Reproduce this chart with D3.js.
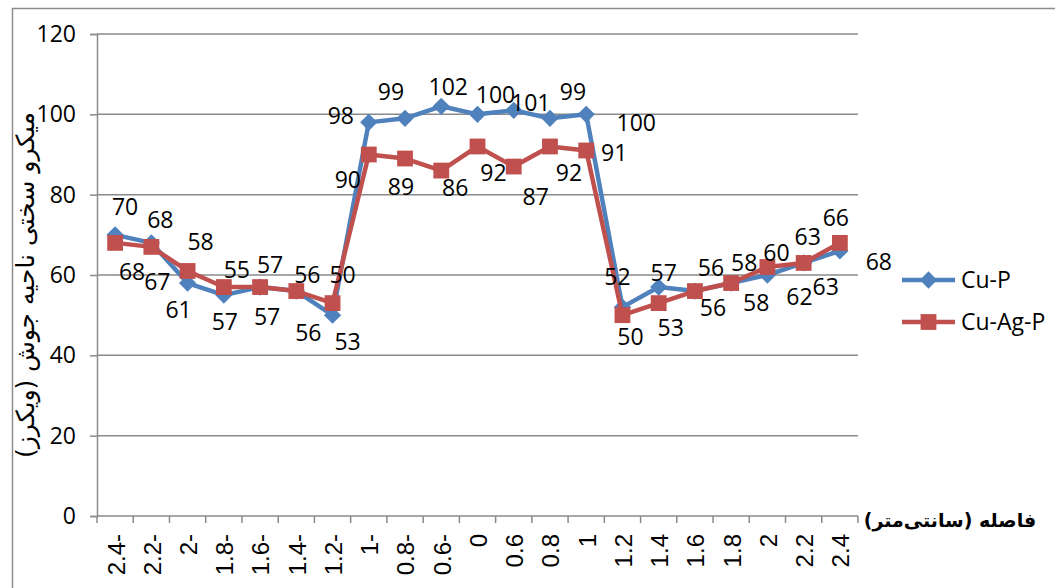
<!DOCTYPE html>
<html>
<head>
<meta charset="utf-8">
<script src="https://cdn.jsdelivr.net/npm/d3@7"></script>
<style>
  html, body { margin: 0; padding: 0; background: #fff; }
  svg { display: block; }
</style>
</head>
<body>
<div id="chart"></div>
<script>
// categories (distance, cm) as printed on the axis
const categories = ['2.4-', '2.2-', '2-', '1.8-', '1.6-', '1.4-', '1.2-', '1-', '0.8-', '0.6-', '0',
  '0.6', '0.8', '1', '1.2', '1.4', '1.6', '1.8', '2', '2.2', '2.4'];
const cuP   = [70, 68, 58, 55, 57, 56, 50, 98, 99, 102, 100, 101, 99, 100, 52, 57, 56, 58, 60, 63, 66];
const cuAgP = [68, 67, 61, 57, 57, 56, 53, 90, 89, 86, 92, 87, 92, 91, 50, 53, 56, 58, 62, 63, 68];
const yTicks = [0, 20, 40, 60, 80, 100, 120];
const seriesNames = ['Cu-P', 'Cu-Ag-P'];

// label nudges (px, relative to the point) - hand placed in the original
const cuPNudge = [[10,-28],[9,-23],[13,-41],[13,-25],[10,-22],[11,-16],[10,-40],[-28,-7],[-14,-27],[7,-20],
  [18,-20],[17,-8],[23,-27],[50,8],[-5,-30],[5,-14],[16,-23],[13,-20],[9,-22],[4,-26],[-4,-33]];
const cuAgPNudge = [[17,29],[6,35],[-9,39],[1,35],[7,30],[12,42],[15,39],[-21,25],[-4,28],[14,17],
  [16,26],[22,30],[19,26],[28,2],[8,22],[12,25],[18,17],[25,20],[32,30],[22,24],[39,19]];

const W = 1055, H = 588;
const margin = { top: 34, right: 200, bottom: 72, left: 97 };
const blue = '#4F81BD', red = '#C0504D';
const numFont = '"Open Sans", "Noto Sans", sans-serif';
const faFont = '"DejaVu Sans", sans-serif';

const svg = d3.select('#chart').append('svg')
  .attr('width', W).attr('height', H);

// outer chart border (clipped by the picture on right/bottom)
svg.append('rect')
  .attr('x', 12.5).attr('y', 8.5)
  .attr('width', W + 20).attr('height', H + 20)
  .attr('fill', 'none').attr('stroke', '#8c8c8c').attr('stroke-width', 1.5);

const x = d3.scaleBand().domain(categories).range([margin.left, W - margin.right + 3]).padding(0);
const y = d3.scaleLinear().domain([0, 120]).range([H - margin.bottom, margin.top]);
const cx = c => x(c) + x.bandwidth() / 2;

// gridlines
svg.append('g').selectAll('line').data(yTicks.filter(d => d > 0)).join('line')
  .attr('x1', margin.left).attr('x2', x.range()[1])
  .attr('y1', d => y(d)).attr('y2', d => y(d))
  .attr('stroke', '#8a8a8a').attr('stroke-width', 1.5);

// y axis
const yAxis = svg.append('g').attr('transform', `translate(${margin.left},0)`)
  .call(d3.axisLeft(y).tickValues(yTicks).tickSize(7).tickPadding(14));
yAxis.select('.domain').attr('stroke', '#8a8a8a').attr('stroke-width', 1.5);
yAxis.selectAll('.tick line').attr('stroke', '#8a8a8a').attr('stroke-width', 1.5);
yAxis.selectAll('.tick text').attr('font-family', numFont).attr('font-size', 23).attr('fill', '#000');

// x axis: line, ticks between categories, rotated labels
const x0 = y(0);
svg.append('line').attr('x1', margin.left).attr('x2', x.range()[1])
  .attr('y1', x0).attr('y2', x0).attr('stroke', '#8a8a8a').attr('stroke-width', 1.5);
const edges = categories.map(c => x(c)).concat([x.range()[1]]);
svg.append('g').selectAll('line').data(edges).join('line')
  .attr('x1', d => d).attr('x2', d => d).attr('y1', x0).attr('y2', x0 + 7)
  .attr('stroke', '#8a8a8a').attr('stroke-width', 1.5);
svg.append('g').selectAll('text').data(categories).join('text')
  .attr('transform', c => `translate(${cx(c) + 1},${x0 + 18}) rotate(-90)`)
  .attr('text-anchor', 'end').attr('dy', '0.35em')
  .attr('font-family', '"Liberation Sans", Arial, sans-serif').attr('font-size', 24)
  .attr('fill', '#000')
  .text(c => c);

// axis titles
svg.append('text')
  .attr('transform', `translate(25,${285}) rotate(-90)`)
  .attr('text-anchor', 'middle').attr('dy', '0.35em')
  .attr('font-family', faFont).attr('font-size', 25).attr('fill', '#000')
  .attr('direction', 'rtl')
  .text('میکرو سختی ناحیه جوش (ویکرز)');
svg.append('text')
  .attr('x', 950).attr('y', 520)
  .attr('text-anchor', 'middle').attr('dy', '0.35em')
  .attr('font-family', faFont).attr('font-size', 19).attr('font-weight', 'bold').attr('fill', '#000')
  .attr('direction', 'rtl')
  .text('فاصله (سانتی‌متر)');

// series
const line = d3.line().x((d, i) => cx(categories[i])).y(d => y(d));
const diamond = d3.symbol().type(d3.symbolDiamond2).size(190);
const square = d3.symbol().type(d3.symbolSquare).size(250);

function drawSeries(values, color, sym) {
  const g = svg.append('g');
  g.append('path').datum(values).attr('d', line)
    .attr('fill', 'none').attr('stroke', color).attr('stroke-width', 4.5)
    .attr('stroke-linejoin', 'round');
  g.selectAll('path.m').data(values).join('path').attr('class', 'm')
    .attr('transform', (d, i) => `translate(${cx(categories[i])},${y(d)})`)
    .attr('d', sym).attr('fill', color);
}
drawSeries(cuP, blue, diamond);
drawSeries(cuAgP, red, square);

function drawLabels(values, nudge) {
  svg.append('g').selectAll('text').data(values).join('text')
    .attr('x', (d, i) => cx(categories[i]) + nudge[i][0])
    .attr('y', (d, i) => y(d) + nudge[i][1])
    .attr('text-anchor', 'middle').attr('dy', '0.36em')
    .attr('font-family', numFont).attr('font-size', 23).attr('fill', '#000')
    .text(d => d);
}
drawLabels(cuP, cuPNudge);
drawLabels(cuAgP, cuAgPNudge);

// legend
const legend = svg.append('g').attr('transform', 'translate(902,280)');
[[blue, diamond], [red, square]].forEach(([color, sym], i) => {
  const row = legend.append('g').attr('transform', `translate(0,${i * 42})`);
  row.append('line').attr('x1', 0).attr('x2', 53).attr('stroke', color).attr('stroke-width', 4.5);
  row.append('path').attr('transform', 'translate(26.5,0)').attr('d', sym).attr('fill', color);
  row.append('text').attr('x', 59).attr('dy', '0.36em')
    .attr('font-family', numFont).attr('font-size', 23).attr('fill', '#000')
    .text(seriesNames[i]);
});
</script>
</body>
</html>
